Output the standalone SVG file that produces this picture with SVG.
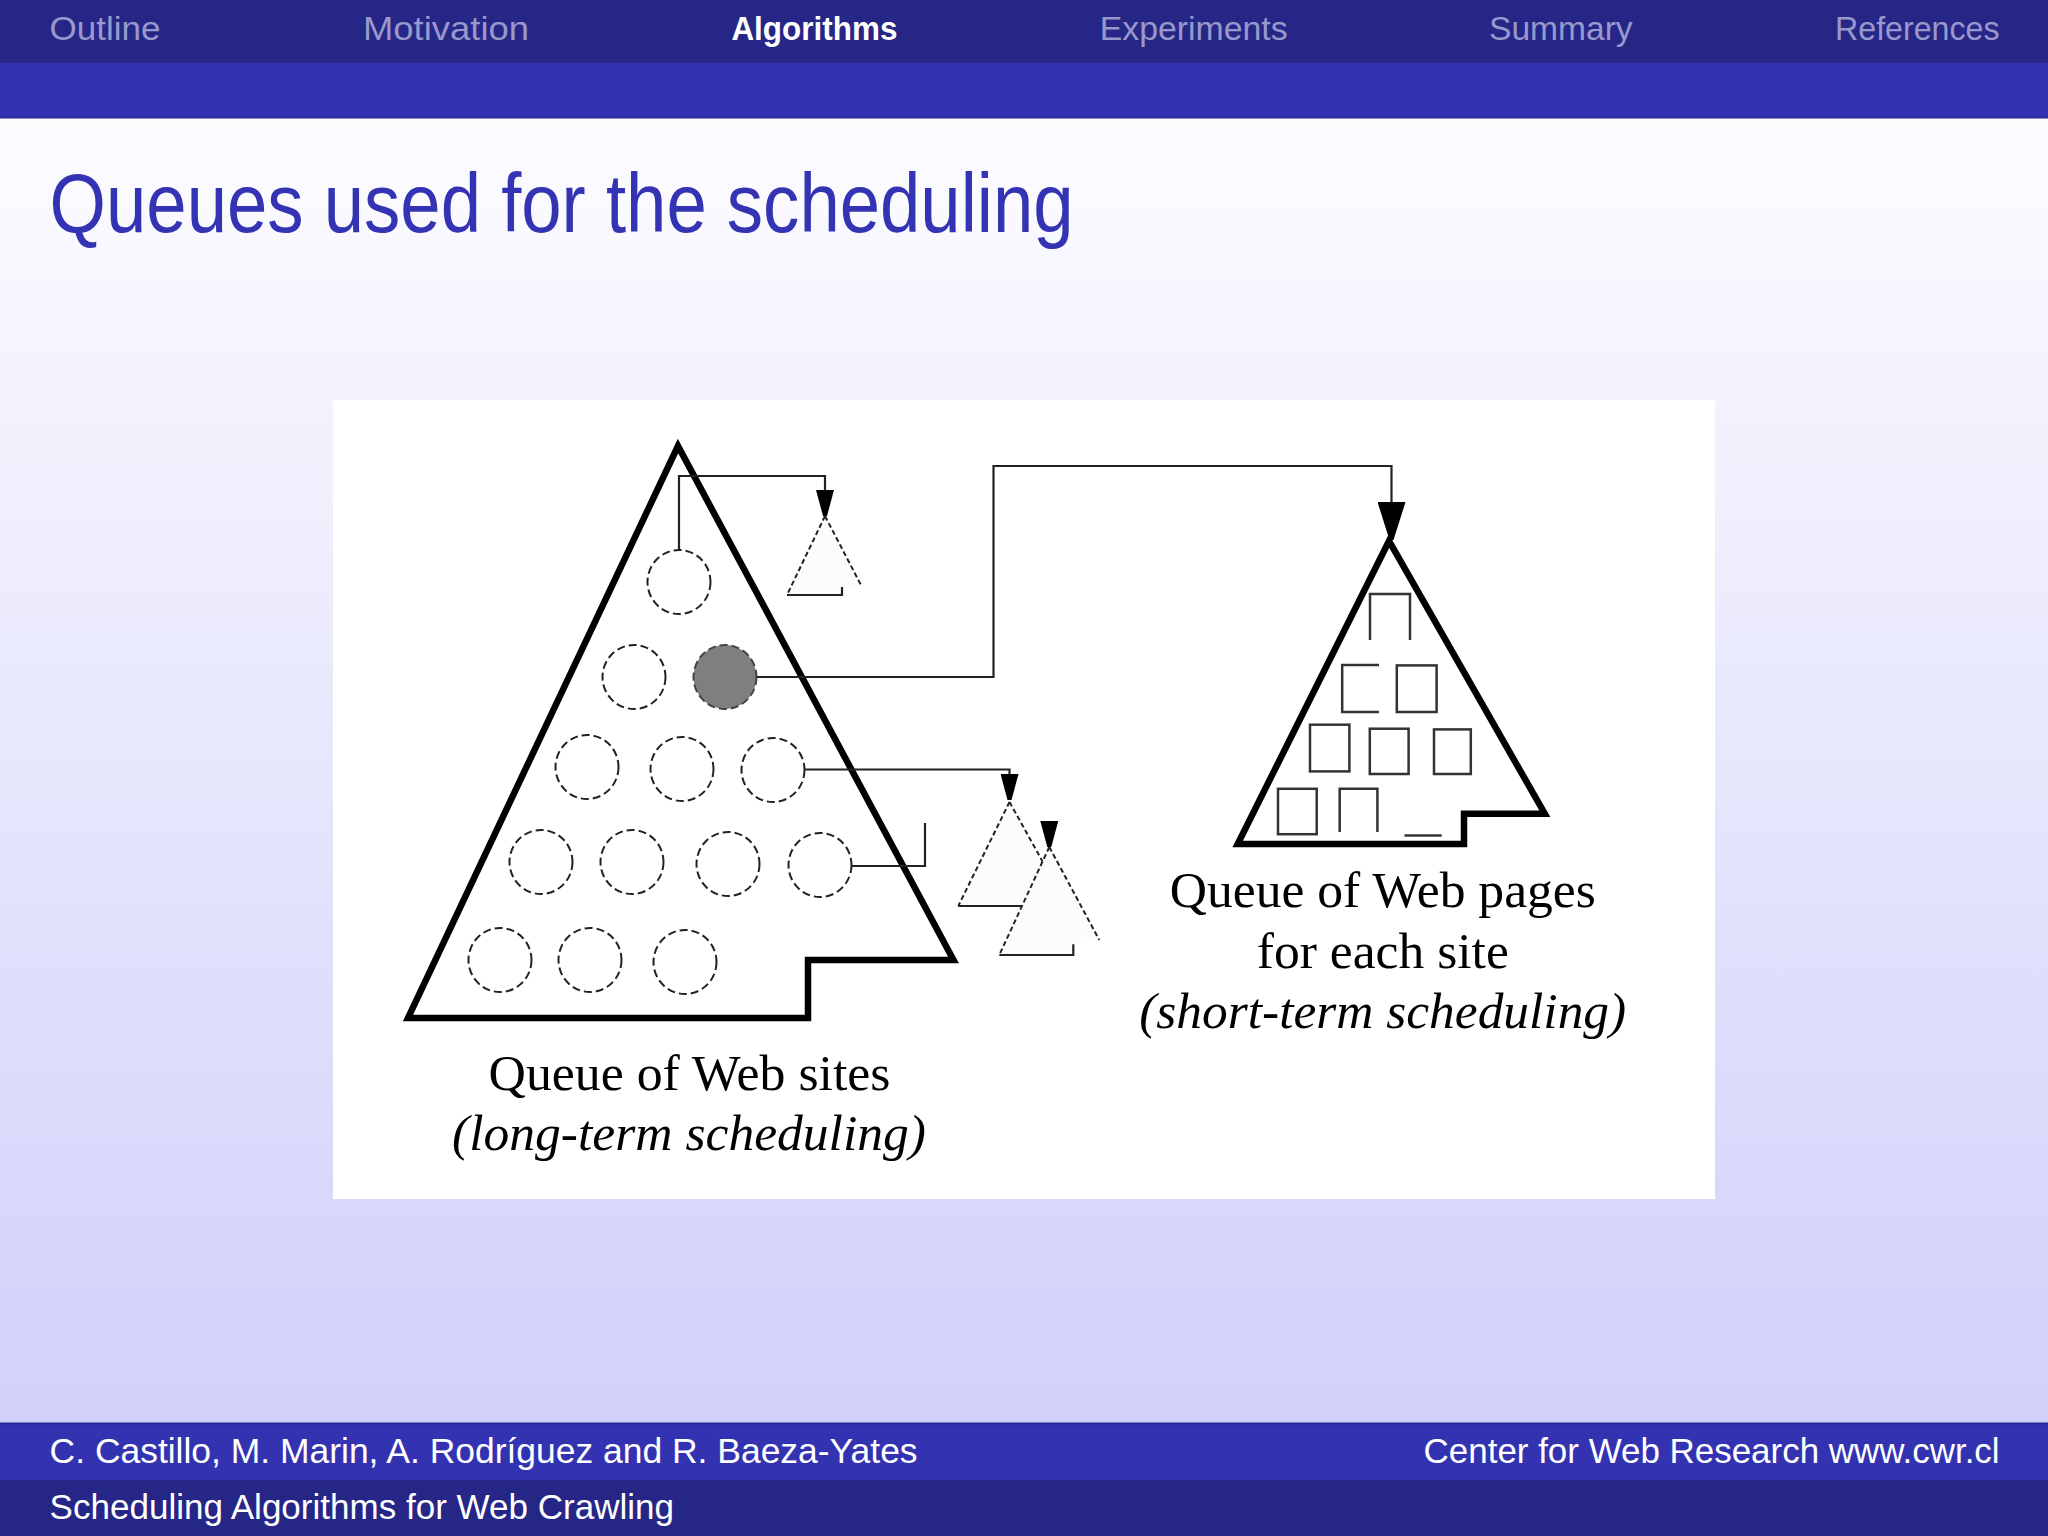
<svg xmlns="http://www.w3.org/2000/svg" width="2048" height="1536" viewBox="0 0 2048 1536">
<defs>
<linearGradient id="bg" x1="0" y1="0" x2="0" y2="1">
<stop offset="0.08" stop-color="#fcfcff"/>
<stop offset="0.93" stop-color="#d0d0fa"/>
</linearGradient>
<marker id="arr" markerUnits="userSpaceOnUse" viewBox="0 0 26 18" refX="26" refY="9" markerWidth="26" markerHeight="18" orient="auto">
<path d="M0,0 L26,7 L26,11 L0,18 Z" fill="#000"/>
</marker>
<marker id="arrBig" markerUnits="userSpaceOnUse" viewBox="0 0 38 28" refX="38" refY="14" markerWidth="38" markerHeight="28" orient="auto">
<path d="M0,0 L38,12 L38,16 L0,28 Z" fill="#000"/>
</marker>
<style>
.nav{font-family:"Liberation Sans","DejaVu Sans",sans-serif;font-size:34px;fill:#9898cc}
.navon{font-family:"Liberation Sans","DejaVu Sans",sans-serif;font-size:34px;fill:#ffffff;font-weight:bold}
.foot{font-family:"Liberation Sans","DejaVu Sans",sans-serif;font-size:35px;fill:#ffffff}
.title{font-family:"Liberation Sans","DejaVu Sans",sans-serif;font-size:84px;fill:#3333b3}
.lbl{font-family:"Liberation Serif","Times New Roman",serif;font-size:51px;fill:#000;text-anchor:middle}
.lbli{font-family:"Liberation Serif","Times New Roman",serif;font-size:51px;fill:#000;font-style:italic;text-anchor:middle}
.thick{fill:none;stroke:#000;stroke-width:6.5;stroke-linejoin:miter}
.site{fill:none;stroke:#222;stroke-width:2;stroke-dasharray:8 4}
.sitesel{fill:#7f7f7f;stroke:#444;stroke-width:2;stroke-dasharray:8 4}
.dash{fill:none;stroke:#222;stroke-width:2;stroke-dasharray:5 3}
.solid{fill:none;stroke:#222;stroke-width:2.2}
.page{fill:none;stroke:#333;stroke-width:2.5}
.sub{fill:#fcfcfd;stroke:none}
.conn{fill:none;stroke:#222;stroke-width:2.2}
</style>
</defs>
<rect x="0" y="0" width="2048" height="1536" fill="url(#bg)"/>
<g id="header">
<rect x="0" y="0" width="2048" height="63" fill="#262687"/>
<rect x="0" y="63" width="2048" height="55" fill="#3333b2"/>
<rect x="0" y="116.5" width="2048" height="2" fill="#2a2a95"/>
<text class="nav" x="49.6" y="40" textLength="111" lengthAdjust="spacingAndGlyphs">Outline</text>
<text class="nav" x="363" y="40" textLength="166" lengthAdjust="spacingAndGlyphs">Motivation</text>
<text class="navon" x="731.4" y="40" textLength="166" lengthAdjust="spacingAndGlyphs">Algorithms</text>
<text class="nav" x="1099.7" y="40" textLength="188" lengthAdjust="spacingAndGlyphs">Experiments</text>
<text class="nav" x="1489" y="40" textLength="143.6" lengthAdjust="spacingAndGlyphs">Summary</text>
<text class="nav" x="1835" y="40" textLength="164.6" lengthAdjust="spacingAndGlyphs">References</text>
</g>
<text class="title" x="49.6" y="232" textLength="1024" lengthAdjust="spacingAndGlyphs">Queues used for the scheduling</text>
<rect id="figure-bg" x="333" y="400" width="1382" height="799" fill="#ffffff"/>
<g id="sites-queue">
<path class="thick" d="M678,446 L408,1018 L808,1018 L808,960 L953.5,960 Z"/>
</g>
<g id="site-1"><ellipse class="site" cx="679" cy="582" rx="31.5" ry="32"/></g>
<g id="site-2"><ellipse class="site" cx="634" cy="677" rx="31.5" ry="32"/></g>
<g id="site-selected"><ellipse class="sitesel" cx="725" cy="677" rx="31.5" ry="32"/></g>
<g id="site-4"><ellipse class="site" cx="587" cy="767" rx="31.5" ry="32"/></g>
<g id="site-5"><ellipse class="site" cx="682" cy="769" rx="31.5" ry="32"/></g>
<g id="site-6"><ellipse class="site" cx="773" cy="770" rx="31.5" ry="32"/></g>
<g id="site-7"><ellipse class="site" cx="541" cy="862" rx="31.5" ry="32"/></g>
<g id="site-8"><ellipse class="site" cx="632" cy="862" rx="31.5" ry="32"/></g>
<g id="site-9"><ellipse class="site" cx="728" cy="864" rx="31.5" ry="32"/></g>
<g id="site-10"><ellipse class="site" cx="820" cy="865" rx="31.5" ry="32"/></g>
<g id="site-11"><ellipse class="site" cx="500" cy="960" rx="31.5" ry="32"/></g>
<g id="site-12"><ellipse class="site" cx="590" cy="960" rx="31.5" ry="32"/></g>
<g id="site-13"><ellipse class="site" cx="685" cy="962" rx="31.5" ry="32"/></g>
<g id="sub-queue-1">
<path class="sub" d="M825,516 L787,595 L842,595 L842,587 L862,587 Z"/>
<path class="dash" d="M825,516 L787,595 M825,516 L862,587"/>
<path class="solid" d="M787,595 H842 V587"/>
</g>
<g id="sub-queue-2">
<path class="sub" d="M1009.5,802 L958.3,906 L1040,906 L1040,896 L1061.7,896 Z"/>
<path class="dash" d="M1009.5,802 L958.3,906 M1009.5,802 L1061.7,896"/>
<path class="solid" d="M958.3,906 H1040 V896"/>
</g>
<g id="sub-queue-3">
<path class="sub" d="M1049.3,847 L999.3,955 L1073.3,955 L1073.3,944.3 L1099.3,940 Z"/>
<path class="dash" d="M1049.3,847 L999.3,955 M1049.3,847 L1099.3,940"/>
<path class="solid" d="M999.3,955 H1073.3 V944.3"/>
</g>
<g id="pages-queue">
<path class="thick" d="M1389,541 L1237.7,844 L1464,844 L1464,813.7 L1544.8,813.7 Z"/>
<path class="page" d="M1370,640 V594 H1410 V640"/>
<path class="page" d="M1379,665 H1342.2 V712 H1379"/>
<rect class="page" x="1396.8" y="665.4" width="39.8" height="46.6"/>
<rect class="page" x="1310" y="724.7" width="39.4" height="46.7"/>
<rect class="page" x="1369.8" y="728.7" width="38.8" height="45.3"/>
<rect class="page" x="1434" y="729.4" width="36.8" height="44.6"/>
<rect class="page" x="1278" y="788.8" width="38.7" height="45.4"/>
<path class="page" d="M1339.7,832 V788.8 H1377.4 V832"/>
<path class="page" d="M1404.5,835.4 H1441.7"/>
</g>
<g id="connectors">
<path class="conn" d="M679,550 V476 H825 V516" marker-end="url(#arr)"/>
<path class="conn" d="M756.5,677 H993.5 V466 H1391.5 V540" marker-end="url(#arrBig)"/>
<path class="conn" d="M804.5,769.5 H1009.5 V800" marker-end="url(#arr)"/>
<path class="conn" d="M851.5,866 H925 V823"/>
<path class="conn" d="M1049.3,822 V847" marker-end="url(#arr)"/>
</g>
<g id="label-sites">
<text class="lbl" x="689.5" y="1090" textLength="402" lengthAdjust="spacingAndGlyphs">Queue of Web sites</text>
<text class="lbli" x="689" y="1150" textLength="474" lengthAdjust="spacingAndGlyphs">(long-term scheduling)</text>
</g>
<g id="label-pages">
<text class="lbl" x="1382.8" y="907" textLength="426" lengthAdjust="spacingAndGlyphs">Queue of Web pages</text>
<text class="lbl" x="1382.8" y="968" textLength="252" lengthAdjust="spacingAndGlyphs">for each site</text>
<text class="lbli" x="1382.7" y="1028" textLength="487" lengthAdjust="spacingAndGlyphs">(short-term scheduling)</text>
</g>
<g id="footer">
<rect x="0" y="1424" width="2048" height="56" fill="#3333b2"/>
<rect x="0" y="1422.5" width="2048" height="2" fill="#2a2a95"/>
<rect x="0" y="1480" width="2048" height="56" fill="#262687"/>
<text class="foot" x="49.6" y="1463" textLength="868" lengthAdjust="spacingAndGlyphs">C. Castillo, M. Marin, A. Rodríguez and R. Baeza-Yates</text>
<text class="foot" x="1423.6" y="1463" textLength="576" lengthAdjust="spacingAndGlyphs">Center for Web Research www.cwr.cl</text>
<text class="foot" x="49.6" y="1519" textLength="624.4" lengthAdjust="spacingAndGlyphs">Scheduling Algorithms for Web Crawling</text>
</g>
</svg>
